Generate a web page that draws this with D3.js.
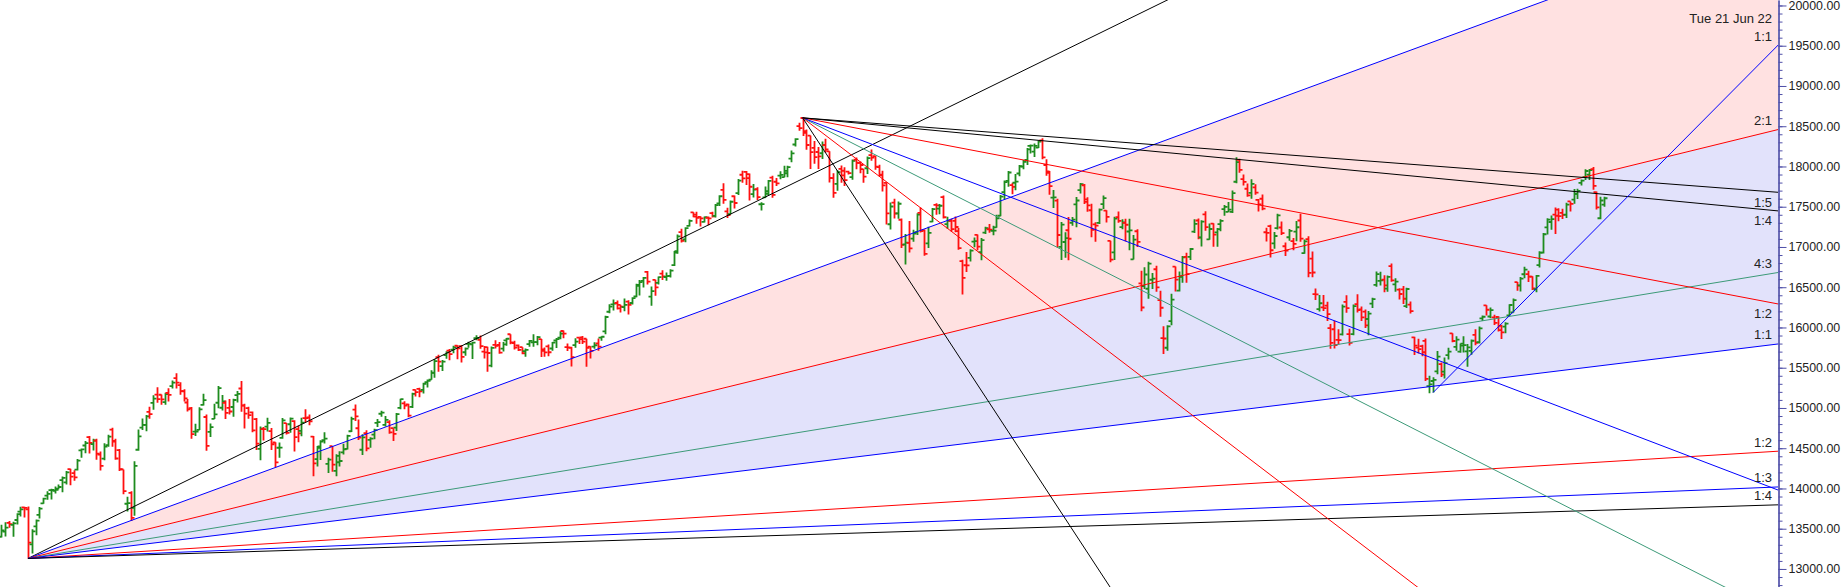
<!DOCTYPE html>
<html><head><meta charset="utf-8">
<script src="https://cdn.jsdelivr.net/npm/d3@7"></script>
<style>
html,body{margin:0;padding:0;background:#fff;overflow:hidden}
svg{display:block;font-family:"Liberation Sans",Arial,sans-serif}
</style></head><body>
<svg id="chart" width="1842" height="587"></svg>
<script>
// Daily OHLC bars, 10 Dec 2020 .. 24 Aug 2022 (one entry per trading day)
const opens = [
13400,13464,13572,13547,13608,13713,13764,13741,13305,13530,13672,13815,13910,13980,13970,
13997,14104,14076,14240,14191,14234,14474,14534,14639,14550,14595,14422,14371,14538,14731,14583,14477,14237,13810,13946,
13759,14481,14756,14789,14952,15064,15165,15164,15073,15186,15271,15371,15284,15208,15068,14999,14707,14729,15038,14888,
14702,14865,15065,15003,15064,15002,15012,15160,15242,15029,14997,14946,14862,14492,14737,14768,14712,14571,14506,14628,14811,
14798,14837,14737,14716,14875,14882,14644,14364,14522,14599,14306,14526,14219,14326,14449,14493,14711,14979,14748,
14481,14687,14604,14668,14816,14928,14789,14824,14749,14756,15001,15058,15044,15014,15226,15238,15226,15320,15351,15438,
15630,15520,15656,15712,15725,15773,15767,15692,15797,15791,15866,15847,15700,15757,15525,15783,15782,15737,15839,15916,15807,15776,
15755,15706,15794,15814,15819,15856,15711,15766,15739,15838,15872,15956,15755,15746,15781,15874,15877,15860,15763,15762,15802,
15874,15951,16195,16288,16304,16281,16253,16320,16304,16385,16518,16580,16690,16382,16592,16555,16668,16627,16642,16775,16948,
17185,17095,17262,17429,17401,17375,17312,17363,17420,17387,17540,17709,17443,17408,17630,17670,17897,17932,17906,17657,17719,
17531,17615,17661,17861,17810,17886,17867,17916,18097,18273,18500,18602,18439,18383,18230,18180,18164,18266,18187,17856,
17783,17970,17947,17935,17867,18085,18046,17968,17978,18141,18128,17991,17890,17796,17282,17550,17418,17338,17032,17052,
17104,17183,17424,17209,17045,17315,17524,17476,17619,17284,17324,17323,17196,16825,16773,16865,17067,17150,16937,17178,17220,17201,17244,
17388,17681,17820,17768,17798,17913,17998,18083,18257,18185,18235,18323,18018,17921,17614,17575,17001,17062,17208,17301,
17529,17706,17767,17591,17456,17280,17300,17533,17451,17076,16933,17370,17246,17300,17192,16847,17195,16548,16515,16481,
16593,16723,16339,15867,15748,16078,16757,16457,16634,16877,16876,17191,17329,17120,17405,17095,17290,17181,17284,17469,17436,
17436,17810,18081,17843,17723,17672,17740,17584,17599,17183,17258,17045,17234,17242,17009,17121,17073,17190,17329,
16924,17097,16854,16415,16227,16249,16271,15993,15978,15846,15913,16319,15917,15917,16291,16226,16197,16105,16296,16528,16578,
16594,16482,16762,16535,16469,16474,16264,16284,15877,15750,15768,15833,15272,15335,15455,15545,15451,15657,15926,15758,15701,15774,
15704,15710,15909,15818,16113,16274,16136,16126,16130,16019,16010,16151,16187,16563,16523,16661,16662,16632,16475,16775,16930,
17244,17310,17402,17463,17423,17401,17566,17589,17659,17797,17868,17898,17966,17682,17357,17526];
const highs = [
13549,13579,13597,13588,13692,13773,13772,13777,13493,13614,13771,13885,13967,13997,14024,
14050,14148,14216,14245,14227,14367,14498,14590,14653,14618,14618,14460,14561,14667,14753,14619,14491,14237,13898,13967,
14337,14732,14869,14914,15015,15159,15257,15168,15188,15244,15340,15431,15320,15232,15111,15011,14805,15009,15177,14920,
14806,15052,15273,15162,15093,15111,15116,15210,15336,15052,15014,14956,14876,14770,14763,14878,14752,14575,14572,14876,14813,
14883,14849,14779,14879,14984,14919,14653,14529,14598,14697,14382,14526,14424,14461,14557,14667,14890,15044,14856,
14673,14723,14637,14743,14864,14967,14900,14849,14749,14938,15115,15082,15053,15190,15228,15251,15312,15354,15470,15607,
15661,15597,15705,15733,15773,15779,15778,15752,15823,15823,15902,15901,15769,15761,15765,15840,15820,15821,15870,15916,15835,15789,
15755,15738,15845,15915,15893,15856,15751,15789,15820,15870,15952,15962,15800,15760,15866,15875,15893,15860,15767,15817,15863,
15892,16146,16290,16349,16336,16281,16359,16338,16375,16543,16589,16628,16701,16509,16593,16634,16712,16684,16723,16951,17154,
17225,17245,17340,17430,17436,17383,17380,17378,17439,17533,17644,17793,17487,17578,17640,17843,17947,17944,17913,17782,17742,
17557,17750,17833,17884,17857,17941,18008,18009,18197,18350,18543,18604,18458,18384,18315,18242,18310,18343,18190,17916,
17954,18013,17989,17947,18087,18113,18061,17968,18123,18210,18132,18022,17946,17805,17553,17600,17564,17355,17160,17324,
17214,17420,17490,17216,17251,17484,17543,17535,17640,17376,17351,17379,17236,16840,16936,16971,17118,17155,17112,17250,17285,17264,17400,
17647,17827,17944,17798,17905,18017,18081,18228,18272,18286,18322,18351,18089,17944,17707,17600,17309,17183,17373,17373,
17622,17795,17781,17617,17536,17306,17477,17639,17455,17076,17376,17442,17345,17351,17352,17149,17220,16706,16748,16816,
16678,16768,16456,16014,16028,16418,16758,16694,16888,16927,16988,17344,17353,17331,17443,17292,17295,17235,17343,17522,17559,
17703,18114,18095,17901,17787,17842,17779,17597,17651,17238,17275,17186,17414,17315,17055,17223,17110,17322,17414,
17092,17132,16945,16484,16404,16404,16318,16042,16084,15977,16284,16400,15984,16284,16414,16262,16223,16205,16370,16695,16691,
16649,16647,16794,16610,16487,16514,16492,16324,15886,15859,15784,15864,15400,15382,15708,15566,15628,15749,15927,15892,15802,15890,
15794,15852,15977,16012,16150,16275,16248,16158,16140,16033,16066,16287,16359,16564,16626,16753,16706,16636,16653,16947,17173,
17356,17391,17490,17480,17474,17548,17566,17719,17724,17839,17965,17969,17992,17690,17625,17623];
const lows = [
13390,13402,13513,13399,13552,13651,13639,13131,13192,13419,13627,13811,13860,13864,13937,
13991,13954,14048,14039,14097,14222,14383,14439,14435,14472,14357,14222,14350,14517,14517,14357,14218,13929,13714,13597,
13662,14469,14726,14711,14865,14978,15065,15041,15041,15081,15243,15242,15163,15081,14957,14617,14651,14725,15031,14468,
14638,14864,14995,14970,14863,14919,14890,15068,14954,14745,14866,14697,14478,14350,14597,14707,14478,14264,14383,14617,14670,
14692,14459,14573,14649,14821,14785,14151,14273,14354,14559,14191,14207,14151,14273,14421,14484,14703,14837,14602,
14416,14461,14506,14611,14765,14892,14770,14681,14591,14715,14985,14985,14885,14999,15142,15132,15180,15253,15351,15374,
15451,15459,15611,15593,15679,15606,15566,15649,15747,15607,15842,15735,15616,15450,15505,15739,15673,15702,15772,15791,15726,15707,
15667,15636,15762,15762,15779,15632,15635,15644,15710,15745,15855,15866,15708,15514,15749,15795,15796,15513,15614,15737,15711,
15834,15915,16177,16210,16224,16185,16202,16162,16286,16375,16396,16495,16535,16270,16395,16535,16589,16581,16620,16764,16915,
17056,17059,17255,17368,17287,17254,17305,17269,17367,17366,17510,17537,17361,17405,17478,17646,17799,17769,17576,17614,17585,
17452,17612,17640,17613,17757,17840,17865,17865,18051,18248,18445,18378,18209,17969,18034,17968,18092,18175,17800,17613,
17697,17799,17757,17900,17836,17965,17915,17798,17905,18071,17959,17877,17688,17280,17217,17354,17351,16986,16782,16931,
17064,17150,17180,16892,16987,17308,17401,17406,17355,17225,17192,17184,16966,16410,16688,16819,16998,16960,16834,17162,17176,17146,17238,
17383,17593,17748,17655,17704,17879,17964,18017,18161,18119,18228,18090,17885,17649,17485,16997,16837,16866,16836,17265,
17244,17665,17535,17437,17120,17064,17285,17473,17303,16810,16838,17302,17219,17070,16958,16844,17000,16203,16478,16357,
16478,16443,16133,15671,15712,16028,16447,16447,16556,16556,16838,17175,17096,17006,17201,17091,17004,17004,17194,17387,17435,
17422,17792,17921,17764,17623,17600,17650,17442,17457,17067,16869,16978,17216,17150,16889,17077,16958,17071,17066,
16917,16623,16623,16341,16197,16204,16081,15735,15740,15790,15900,16183,15775,15904,16185,16079,15992,15903,16243,16506,16521,
16438,16444,16567,16445,16347,16293,16243,16172,15659,15678,15641,15335,15183,15191,15419,15385,15367,15603,15815,15710,15687,15690,
15511,15661,15780,15800,16081,16150,16115,16031,15950,15858,15927,16142,16187,16455,16447,16611,16564,16465,16438,16746,16919,
17154,17215,17162,17318,17349,17359,17442,17536,17597,17764,17833,17831,17710,17467,17345,17499];
const closes = [
13478,13514,13558,13567,13682,13740,13760,13328,13466,13601,13749,13873,13932,13981,13982,
14018,14132,14199,14146,14137,14347,14485,14563,14565,14596,14434,14281,14521,14645,14590,14372,14239,13968,13818,13635,
14281,14648,14790,14896,14924,15116,15109,15107,15173,15163,15315,15314,15209,15119,14982,14676,14708,14982,15097,14529,
14762,14920,15246,15081,14938,14956,15099,15175,15031,14929,14910,14721,14558,14744,14736,14815,14549,14325,14507,14845,14691,
14867,14638,14684,14819,14874,14835,14311,14505,14581,14618,14359,14296,14406,14341,14485,14653,14865,14895,14631,
14634,14497,14618,14724,14823,14942,14851,14697,14678,14923,15109,15030,14906,15175,15198,15208,15301,15338,15436,15583,
15575,15576,15690,15670,15752,15740,15635,15738,15799,15812,15869,15768,15691,15683,15746,15773,15687,15790,15860,15815,15749,15721,
15680,15722,15834,15819,15880,15728,15690,15692,15812,15854,15924,15923,15752,15632,15824,15856,15824,15746,15709,15779,15763,
15885,16130,16258,16295,16238,16258,16280,16282,16364,16529,16563,16615,16569,16451,16497,16625,16634,16637,16705,16931,17132,
17076,17234,17324,17377,17362,17354,17369,17355,17380,17519,17630,17585,17397,17562,17546,17823,17853,17855,17748,17712,17618,
17532,17692,17822,17646,17790,17895,17946,17992,18162,18339,18477,18419,18267,18179,18115,18125,18268,18211,17857,17672,
17930,17889,17830,17917,18069,18044,18018,17874,18103,18110,17999,17899,17765,17417,17503,17416,17537,17027,17054,16983,
17167,17401,17197,16913,17176,17470,17517,17512,17369,17325,17222,17248,16985,16615,16771,16955,17073,17004,17086,17234,17214,17204,17354,
17626,17805,17925,17746,17813,18003,18056,18212,18258,18256,18309,18113,17938,17757,17617,17149,17278,17110,17102,17340,
17577,17780,17560,17516,17214,17266,17464,17606,17375,16843,17352,17323,17304,17276,17207,17092,17063,16248,16658,16794,
16606,16498,16245,15863,16013,16345,16594,16630,16871,16663,16975,17287,17117,17316,17246,17223,17153,17222,17325,17498,17465,
17670,18053,17957,17808,17640,17784,17675,17530,17476,17174,16959,17136,17393,17172,16954,17201,17038,17245,17103,
17069,16678,16683,16411,16301,16240,16167,15808,15782,15842,16259,16240,15809,16266,16215,16126,16026,16171,16353,16662,16585,
16523,16628,16584,16570,16416,16357,16478,16202,15774,15732,15692,15361,15294,15350,15639,15413,15557,15699,15832,15850,15799,15780,
15752,15835,15810,15990,16133,16220,16216,16058,15967,15938,16049,16279,16340,16521,16606,16719,16631,16484,16642,16930,17158,
17340,17345,17388,17382,17398,17525,17535,17659,17698,17825,17944,17956,17758,17491,17577,17605];

// Right price axis labels
const priceTicks = [13000,13500,14000,14500,15000,15500,16000,16500,17000,17500,18000,18500,19000,19500,20000];

// Gann fan A (from the Dec 2020 low), fan B (from the Oct 2021 high), fan C (from the Jun 2022 low)
const fanAAnchor = {bar: 7, price: 13131, unit: 5.78};
const fanARatios = [4, 3, 2, 4/3, 1, 1/2, 1/3, 1/4];
const fanALabels = ["4:1","3:1","2:1","4:3","1:1","1:2","1:3","1:4"];
const fanBAnchor = {bar: 211, price: 18604, unit: -18.0};
const fanBRatios = [4, 2, 4/3, 1, 1/2, 1/4, 1/5];
const fanBLabels = ["4:1","2:1","4:3","","1:2","1:4","1:5"];
const fanCAnchor = {bar: 377, price: 15191, unit: 47.5};
const fanCRatios = [1];
const fanCLabels = ["1:1"];
const fanCDate = "Tue 21 Jun 22";

// ---- styles ----
const fanAColors = ["#000000","#0000ff","#ff0000","#3c9a78","#0000ff","#ff0000","#0000ff","#000000"];
const fanBColors = ["#000000","#ff0000","#3c9a78","#0000ff","#ff0000","#000000","#000000"];
const fanCColors = ["#0000ff"];
const upColor = "#1e8c1e", downColor = "#ff1010";

const W = 1842, H = 587, plotRight = 1778;
const svg = d3.select("#chart");
const n = closes.length;
const x = d3.scaleLinear().domain([0, n - 1]).range([1.4, 1603.9]);
const y = d3.scaleLinear().domain([12776, 20068]).range([H, 0]);
const farBar = x.invert(plotRight + 40);

svg.append("defs").append("clipPath").attr("id","plotclip")
  .append("rect").attr("x",0).attr("y",0).attr("width",plotRight).attr("height",H);
const plot = svg.append("g").attr("clip-path","url(#plotclip)");

function fanPoint(anchor, ratio, bar){
  return [x(bar), y(anchor.price + anchor.unit * ratio * (bar - anchor.bar))];
}
// fills for fan A: pink between 3:1 and 2:1, lavender between 2:1 and 1:1
const o = [x(fanAAnchor.bar), y(fanAAnchor.price)];
const p31 = fanPoint(fanAAnchor, 3, farBar), p21 = fanPoint(fanAAnchor, 2, farBar), p11 = fanPoint(fanAAnchor, 1, farBar);
plot.append("path").attr("d", d3.line()([o, p31, p21]))
  .attr("fill","#ffe1e1").attr("stroke","none");
plot.append("path").attr("d", d3.line()([o, p21, p11]))
  .attr("fill","#e2e2fb").attr("stroke","none");

// OHLC bars
const t = 3;
plot.append("g").selectAll("path").data(d3.range(n)).join("path")
  .attr("d", i => {
    const xi = Math.round(x(i)) + 0.5;
    return `M${xi},${y(highs[i])}V${y(lows[i])}M${xi - t},${y(opens[i])}H${xi}M${xi},${y(closes[i])}H${xi + t}`;
  })
  .attr("fill","none")
  .attr("stroke", i => closes[i] >= opens[i] ? upColor : downColor)
  .attr("stroke-width", 1.8);

// fan lines
function drawFan(anchor, ratios, colors){
  const g = plot.append("g");
  ratios.forEach((r, k) => {
    g.append("path").attr("d", d3.line()([[x(anchor.bar), y(anchor.price)], fanPoint(anchor, r, farBar)]))
      .attr("stroke", colors[k]).attr("stroke-width", 1).attr("fill","none");
  });
}
drawFan(fanAAnchor, fanARatios, fanAColors);
drawFan(fanBAnchor, fanBRatios, fanBColors);
drawFan(fanCAnchor, fanCRatios, fanCColors);

// fan labels at the right edge
const lblG = svg.append("g").attr("font-size", 13).attr("fill", "#222").attr("text-anchor","end");
const edgeBar = x.invert(plotRight);
function labelFan(anchor, ratios, labels, dy){
  ratios.forEach((r, k) => {
    const yy = y(anchor.price + anchor.unit * r * (edgeBar - anchor.bar));
    if (!labels[k] || yy < 0 || yy > H) return;
    lblG.append("text").attr("x", plotRight - 6).attr("y", yy + dy).text(labels[k]);
  });
}
labelFan(fanAAnchor, fanARatios, fanALabels, -4.5);
labelFan(fanBAnchor, fanBRatios, fanBLabels, 14.5);
labelFan(fanCAnchor, fanCRatios, fanCLabels, -4.5);
{
  const yy = y(fanCAnchor.price + fanCAnchor.unit * (edgeBar - fanCAnchor.bar));
  lblG.append("text").attr("x", plotRight - 6).attr("y", yy - 22.5).text(fanCDate);
}

// right axis
const axisColor = "#5050a8";
const minorTicks = d3.range(12800, 20001, 100);
const gMinor = svg.append("g").attr("transform", `translate(${plotRight + 0.5},0)`)
  .call(d3.axisRight(y).tickValues(minorTicks).tickSize(4).tickSizeOuter(0).tickFormat(""));
const gMajor = svg.append("g").attr("transform", `translate(${plotRight + 0.5},0)`)
  .call(d3.axisRight(y).tickValues(priceTicks).tickSize(8).tickSizeOuter(0).tickPadding(2).tickFormat(d3.format(".2f")));
[gMinor, gMajor].forEach(g => {
  g.select(".domain").attr("stroke", axisColor).attr("stroke-width", 1.2);
  g.selectAll(".tick line").attr("stroke", axisColor);
  g.selectAll(".tick text").attr("fill", "#222").attr("font-size", 12.4).attr("font-family", '"Liberation Sans",Arial,sans-serif');
});
</script>
</body></html>
